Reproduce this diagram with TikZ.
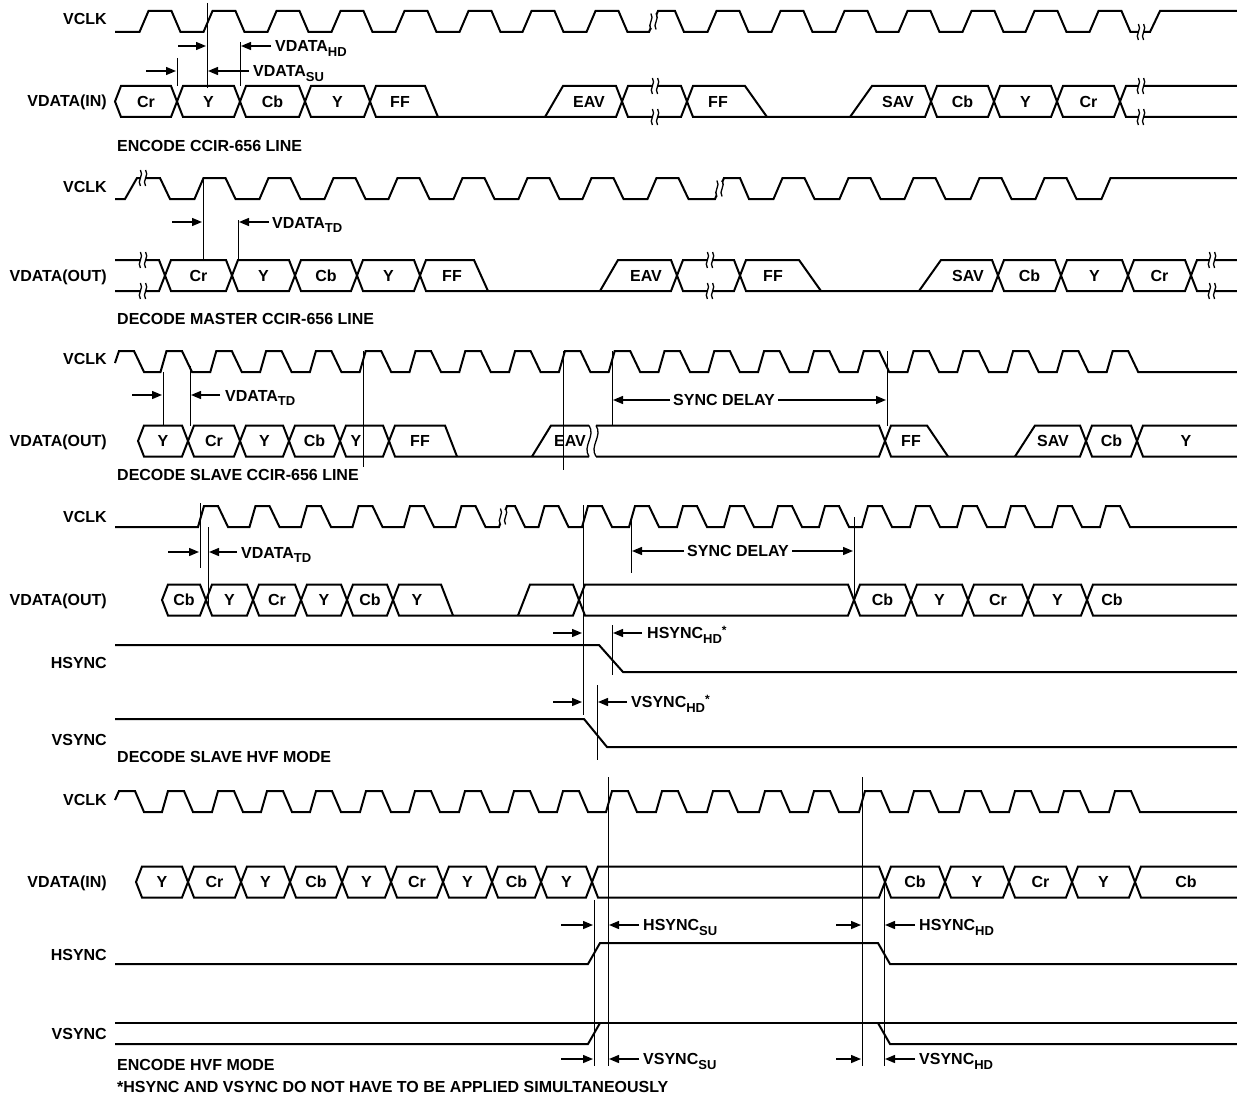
\documentclass[tikz,border=0pt]{standalone}
\usepackage{fontspec}
\setmainfont{Liberation Sans}
\usetikzlibrary{arrows.meta}
\tikzset{
  wave/.style={line width=2pt},
  cur/.style={line width=1pt},
  brkl/.style={line width=1.3pt},
  arr/.style={line width=1.4pt,-{Triangle[length=10pt,width=8pt]}},
  lab/.style={font=\bfseries\fontsize{16}{19}\selectfont,inner sep=0pt},
}
\newcommand\hexc[4]{%
  \draw[wave] (#1,#3) -- (#1+6,#3-15.5) -- (#2-6,#3-15.5) -- (#2,#3) -- (#2-6,#3+15.5) -- (#1+6,#3+15.5) -- cycle;
  \node[lab,anchor=base] at ({(#1+#2)/2},#3+5.8) {#4};}
\newcommand\tn[3]{\node[lab,anchor=base] at (#1,#2+5.8) {#3};}
\newcommand\brk[2]{%
  \fill[white] (#1-2.6,#2-7) rectangle (#1+2.6,#2+7);
  \draw[brkl] (#1-2.6,#2-8) .. controls (#1+1.4,#2-3) and (#1-6.6,#2+3) .. (#1-2.6,#2+8);
  \draw[brkl] (#1+2.6,#2-8) .. controls (#1+6.6,#2-3) and (#1-1.4,#2+3) .. (#1+2.6,#2+8);}
\newcommand\sub[1]{\raisebox{-4.5pt}{\fontsize{13}{13}\selectfont #1}}
\newcommand\sta{\raisebox{4pt}{\fontsize{12}{12}\selectfont *}}
\begin{document}
\begin{tikzpicture}[x=1pt,y=-1pt]
\fill[white] (0,0) rectangle (1237,1097);
\useasboundingbox (0,0) rectangle (1237,1097);

% ================= Section 1 =================
\node[lab,anchor=base east] (s1clk) at (107,25) {VCLK};
\node[lab,anchor=base east] (s1dat) at (107,107) {VDATA(IN)};
\node[lab,anchor=base west] (s1t) at (117,151.5) {ENCODE CCIR-656 LINE};
\draw[wave] (115,32) foreach \x in {144,208,272,336,400,464,527,591}{ -- (\x-4.5,32) -- (\x+4.5,11) -- (\x+27.5,11) -- (\x+36.5,32)}
  -- (649,32) -- (658,11) -- (675,11) -- (684,32)
  foreach \x in {712,776,840,903,967,1030,1094}{ -- (\x-4.5,32) -- (\x+4.5,11) -- (\x+27.5,11) -- (\x+36.5,32)}
  -- (1150,32) -- (1160,11) -- (1237,11);
\brk{653.5}{21.5}
\brk{1141}{32}
\hexc{115}{177}{101.5}{Cr}
\hexc{177}{240}{101.5}{Y}
\hexc{240}{305}{101.5}{Cb}
\hexc{305}{370}{101.5}{Y}
\draw[wave] (370,101.5) -- (376,86) -- (425,86) -- (438,117);
\draw[wave] (370,101.5) -- (376,117) -- (616,117) -- (622,101.5);
\draw[wave] (545,117) -- (563,86) -- (616,86) -- (622,101.5);
\tn{400}{101.5}{FF}
\tn{589}{101.5}{EAV}
\hexc{622}{687}{101.5}{}
\brk{655}{86}
\brk{655}{117}
\draw[wave] (687,101.5) -- (693,86) -- (745,86) -- (767,117);
\draw[wave] (687,101.5) -- (693,117) -- (925,117) -- (931,101.5);
\draw[wave] (850,117) -- (872,86) -- (925,86) -- (931,101.5);
\tn{718}{101.5}{FF}
\tn{898}{101.5}{SAV}
\hexc{931}{994}{101.5}{Cb}
\hexc{994}{1057}{101.5}{Y}
\hexc{1057}{1120}{101.5}{Cr}
\draw[wave] (1237,86) -- (1126,86) -- (1120,101.5) -- (1126,117) -- (1237,117);
\brk{1141}{86}
\brk{1141}{117}
\draw[cur] (207,3) -- (207,88);
\draw[cur] (177,58) -- (177,86);
\draw[cur] (240,42) -- (240,86);
\draw[arr] (178,46) -- (206,46);
\draw[arr] (271,46) -- (241,46);
\draw[arr] (146,71) -- (176,71);
\draw[arr] (249,71) -- (208,71);
\node[lab,anchor=base west] (hd1) at (275,52) {VDATA\sub{HD}};
\node[lab,anchor=base west] (su1) at (253,77) {VDATA\sub{SU}};

% ================= Section 2 =================
\node[lab,anchor=base east] (s2clk) at (107,192) {VCLK};
\node[lab,anchor=base east] (s2dat) at (107,281.5) {VDATA(OUT)};
\node[lab,anchor=base west] (s2t) at (117,324.5) {DECODE MASTER CCIR-656 LINE};
\draw[wave] (115,199) -- (125,199) -- (137,178) -- (160,178) -- (170,199)
  foreach \x in {199,264,329,393,458,523,587,652}{ -- (\x-4.5,199) -- (\x+4.5,178) -- (\x+26.5,178) -- (\x+36.5,199)}
  -- (715,199) -- (724,178) -- (740,178) -- (749,199)
  foreach \x in {778,844,909,975,1040}{ -- (\x-4.5,199) -- (\x+4.5,178) -- (\x+26.5,178) -- (\x+36.5,199)}
  -- (1101.5,199) -- (1110.5,178) -- (1237,178);
\brk{143}{178}
\brk{719.5}{188.5}
\draw[wave] (115,260) -- (159,260) -- (165,275.5) -- (159,291) -- (115,291);
\brk{143}{260}
\brk{143}{291}
\hexc{165}{232}{275.5}{Cr}
\hexc{232}{295}{275.5}{Y}
\hexc{295}{357}{275.5}{Cb}
\hexc{357}{420}{275.5}{Y}
\draw[wave] (420,275.5) -- (426,260) -- (474,260) -- (488,291);
\draw[wave] (420,275.5) -- (426,291) -- (671,291) -- (677,275.5);
\draw[wave] (600,291) -- (618,260) -- (671,260) -- (677,275.5);
\tn{452}{275.5}{FF}
\tn{646}{275.5}{EAV}
\hexc{677}{740}{275.5}{}
\brk{710}{260}
\brk{710}{291}
\draw[wave] (740,275.5) -- (746,260) -- (799,260) -- (821,291);
\draw[wave] (740,275.5) -- (746,291) -- (992,291) -- (998,275.5);
\draw[wave] (919,291) -- (941,260) -- (992,260) -- (998,275.5);
\tn{773}{275.5}{FF}
\tn{968}{275.5}{SAV}
\hexc{998}{1061}{275.5}{Cb}
\hexc{1061}{1128}{275.5}{Y}
\hexc{1128}{1191}{275.5}{Cr}
\draw[wave] (1237,260) -- (1197,260) -- (1191,275.5) -- (1197,291) -- (1237,291);
\brk{1212}{260}
\brk{1212}{291}
\draw[cur] (203,178) -- (203,260);
\draw[cur] (238,220) -- (238,260);
\draw[arr] (172,222) -- (202,222);
\draw[arr] (269,222) -- (239,222);
\node[lab,anchor=base west] (td2) at (272,228) {VDATA\sub{TD}};

% ================= Section 3 =================
\node[lab,anchor=base east] (s3clk) at (107,364) {VCLK};
\node[lab,anchor=base east] (s3dat) at (107,446.5) {VDATA(OUT)};
\node[lab,anchor=base west] (s3t) at (117,480.5) {DECODE SLAVE CCIR-656 LINE};
\draw[wave] (115,363) -- (119,351) -- (134,351) -- (144,372)
  foreach \x in {163.5,213.3,263.1,312.9,362.7,412.5,462.3,512.1,561.9,611.7,661.5,711.3,761.1,810.9,860.7,910.5,960.3,1010.1,1059.9,1109.7}{ -- (\x-3,372) -- (\x+3,351) -- (\x+18.5,351) -- (\x+28.5,372)}
  -- (1237,372);
\hexc{138}{188}{441}{Y}
\hexc{188}{240}{441}{Cr}
\hexc{240}{289}{441}{Y}
\hexc{289}{340}{441}{Cb}
\hexc{340}{389}{441}{}
\tn{356}{441}{Y}
\draw[wave] (389,441) -- (395,425.5) -- (445,425.5) -- (457,456.5);
\draw[wave] (389,441) -- (395,456.5) -- (589,456.5);
\draw[wave] (532,456.5) -- (551,425.5) -- (589,425.5);
\tn{420}{441}{FF}
\tn{570}{441}{EAV}
\draw[brkl] (589,425.5) .. controls (596,436) and (582,446) .. (589,456.5);
\draw[brkl] (596,425.5) .. controls (603,436) and (589,446) .. (596,456.5);
\draw[wave] (596,425.5) -- (879,425.5) -- (885,441) -- (879,456.5) -- (596,456.5);
\draw[wave] (885,441) -- (891,425.5) -- (927,425.5) -- (948,456.5);
\draw[wave] (885,441) -- (891,456.5) -- (1080,456.5) -- (1086,441);
\draw[wave] (1015,456.5) -- (1035,425.5) -- (1080,425.5) -- (1086,441);
\tn{911}{441}{FF}
\tn{1053}{441}{SAV}
\hexc{1086}{1137}{441}{Cb}
\draw[wave] (1237,425.5) -- (1143,425.5) -- (1137,441) -- (1143,456.5) -- (1237,456.5);
\tn{1186}{441}{Y}
\draw[cur] (163,372) -- (163,425.5);
\draw[cur] (190,366) -- (190,425.5);
\draw[cur] (363,351) -- (363,467);
\draw[cur] (563,351) -- (563,470);
\draw[cur] (612,351) -- (612,425.5);
\draw[cur] (887,351) -- (887,425.5);
\draw[arr] (132,395) -- (162,395);
\draw[arr] (220,395) -- (191,395);
\node[lab,anchor=base west] (td3) at (225,401) {VDATA\sub{TD}};
\node[lab,anchor=base] (sd3) at (724,405.8) {SYNC DELAY};
\draw[arr] (670,400) -- (613,400);
\draw[arr] (778,400) -- (886,400);

% ================= Section 4 =================
\node[lab,anchor=base east] (s4clk) at (107,522.5) {VCLK};
\node[lab,anchor=base east] (s4dat) at (107,605.5) {VDATA(OUT)};
\node[lab,anchor=base east] (s4hs) at (107,668.5) {HSYNC};
\node[lab,anchor=base east] (s4vs) at (107,745.5) {VSYNC};
\node[lab,anchor=base west] (s4t) at (117,762.5) {DECODE SLAVE HVF MODE};
\draw[wave] (115,527)
  foreach \x in {201,252.5,304,355.5,407,458.5}{ -- (\x-3,527) -- (\x+3,506) -- (\x+17,506) -- (\x+27,527)}
  -- (499,527) -- (507,506) -- (515,506) -- (525,527)
  foreach \x in {541.5,585,632,680,727,775,822,865,913,960,1008,1055,1103}{ -- (\x-3,527) -- (\x+3,506) -- (\x+17,506) -- (\x+27,527)}
  -- (1237,527);
\brk{503}{516.5}
\hexc{162}{206}{600}{Cb}
\hexc{206}{253}{600}{Y}
\hexc{253}{301}{600}{Cr}
\hexc{301}{347}{600}{Y}
\hexc{347}{393}{600}{Cb}
\draw[wave] (393,600) -- (399,584.5) -- (441,584.5) -- (453,615.5);
\draw[wave] (393,600) -- (399,615.5) -- (573,615.5) -- (579,600);
\draw[wave] (518,615.5) -- (530,584.5) -- (573,584.5) -- (579,600);
\tn{417}{600}{Y}
\hexc{579}{854}{600}{}
\hexc{854}{911}{600}{Cb}
\hexc{911}{968}{600}{Y}
\hexc{968}{1028}{600}{Cr}
\hexc{1028}{1087}{600}{Y}
\draw[wave] (1237,584.5) -- (1093,584.5) -- (1087,600) -- (1093,615.5) -- (1237,615.5);
\tn{1112}{600}{Cb}
\draw[wave] (115,645) -- (599,645) -- (623,672) -- (1237,672);
\draw[wave] (115,719) -- (584,719) -- (607,747) -- (1237,747);
\draw[cur] (200,503) -- (200,568);
\draw[cur] (208,527) -- (208,608);
\draw[cur] (583,505) -- (583,715);
\draw[cur] (631,517) -- (631,573);
\draw[cur] (854,517) -- (854,600);
\draw[cur] (612,625) -- (612,675);
\draw[cur] (597,685) -- (597,760);
\draw[arr] (168,552) -- (199,552);
\draw[arr] (237,552) -- (209,552);
\node[lab,anchor=base west] (td4) at (241,558) {VDATA\sub{TD}};
\node[lab,anchor=base] (sd4) at (738,556.8) {SYNC DELAY};
\draw[arr] (684,551) -- (632,551);
\draw[arr] (792,551) -- (853,551);
\draw[arr] (553,633) -- (582,633);
\draw[arr] (642,633) -- (613,633);
\node[lab,anchor=base west] (hhd4) at (647,638.5) {HSYNC\sub{HD}\sta};
\draw[arr] (553,702) -- (582,702);
\draw[arr] (627,702) -- (598,702);
\node[lab,anchor=base west] (vhd4) at (631,707.5) {VSYNC\sub{HD}\sta};

% ================= Section 5 =================
\node[lab,anchor=base east] (s5clk) at (107,805.5) {VCLK};
\node[lab,anchor=base east] (s5dat) at (107,887.5) {VDATA(IN)};
\node[lab,anchor=base east] (s5hs) at (107,960.5) {HSYNC};
\node[lab,anchor=base east] (s5vs) at (107,1039.5) {VSYNC};
\node[lab,anchor=base west] (s5t) at (117,1070.5) {ENCODE HVF MODE};
\node[lab,anchor=base west] (note) at (117,1092.5) {*HSYNC AND VSYNC DO NOT HAVE TO BE APPLIED SIMULTANEOUSLY};
\draw[wave] (115,800) -- (119,791) -- (135,791) -- (144,812)
  foreach \x in {165,215,264,313,363,412,462,511,560,609,659,710,762,811,862,911,962,1012,1061,1112}{ -- (\x-3,812) -- (\x+3,791) -- (\x+19,791) -- (\x+28,812)}
  -- (1237,812);
\hexc{136}{188}{882}{Y}
\hexc{188}{241}{882}{Cr}
\hexc{241}{290}{882}{Y}
\hexc{290}{342}{882}{Cb}
\hexc{342}{391}{882}{Y}
\hexc{391}{443}{882}{Cr}
\hexc{443}{492}{882}{Y}
\hexc{492}{541}{882}{Cb}
\hexc{541}{592}{882}{Y}
\hexc{592}{885}{882}{}
\hexc{885}{945}{882}{Cb}
\hexc{945}{1009}{882}{Y}
\hexc{1009}{1072}{882}{Cr}
\hexc{1072}{1135}{882}{Y}
\draw[wave] (1237,866.5) -- (1141,866.5) -- (1135,882) -- (1141,897.5) -- (1237,897.5);
\tn{1186}{882}{Cb}
\draw[wave] (115,964) -- (588,964) -- (600,943) -- (878,943) -- (890,964) -- (1237,964);
\draw[wave] (115,1023) -- (1237,1023);
\draw[wave] (115,1044) -- (588,1044) -- (600,1023);
\draw[wave] (878,1023) -- (890,1044) -- (1237,1044);
\draw[cur] (608,777) -- (608,1066);
\draw[cur] (862,777) -- (862,1066);
\draw[cur] (594,900) -- (594,1066);
\draw[cur] (884,882) -- (884,1066);
\draw[arr] (561,925) -- (593,925);
\draw[arr] (639,925) -- (609,925);
\node[lab,anchor=base west] (hsu5) at (643,930.5) {HSYNC\sub{SU}};
\draw[arr] (836,925) -- (861,925);
\draw[arr] (915,925) -- (885,925);
\node[lab,anchor=base west] (hhd5) at (919,930.5) {HSYNC\sub{HD}};
\draw[arr] (561,1059) -- (593,1059);
\draw[arr] (639,1059) -- (609,1059);
\node[lab,anchor=base west] (vsu5) at (643,1064.5) {VSYNC\sub{SU}};
\draw[arr] (836,1059) -- (861,1059);
\draw[arr] (915,1059) -- (885,1059);
\node[lab,anchor=base west] (vhd5) at (919,1064.5) {VSYNC\sub{HD}};
\end{tikzpicture}
\end{document}
